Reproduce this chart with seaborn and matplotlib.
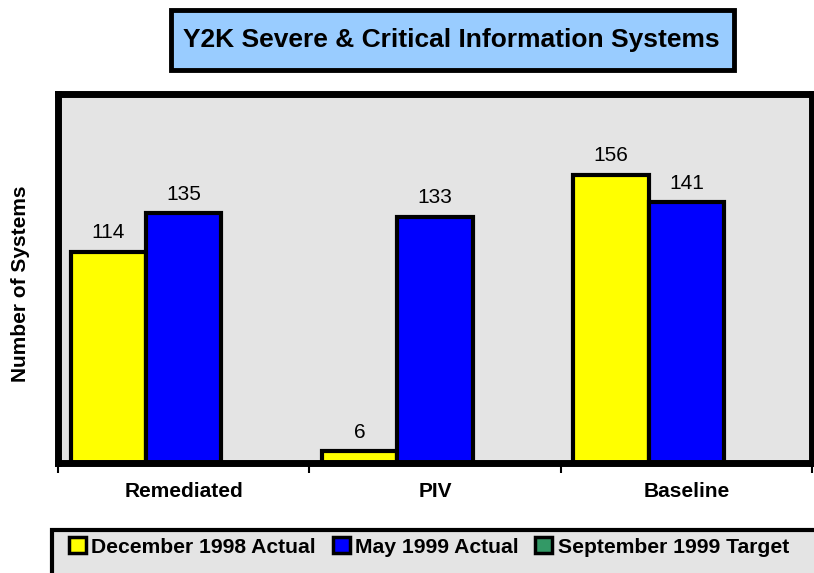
import numpy as np
import pandas as pd
import seaborn as sns
import matplotlib.pyplot as plt
from matplotlib.patches import Patch, Rectangle

categories = ['Remediated', 'PIV', 'Baseline']
series_names = ['December 1998 Actual', 'May 1999 Actual', 'September 1999 Target']
dec_1998_actual = [114, 6, 156]
may_1999_actual = [135, 133, 141]
sep_1999_target = [np.nan, np.nan, np.nan]  # no values reported yet
series_colors = ['#FFFF00', '#0000FF', '#339966']

sns.set_theme(style='white')
plt.rcParams['font.family'] = ['Liberation Sans', 'DejaVu Sans']
plt.rcParams['text.color'] = 'black'
plt.rcParams['xtick.color'] = 'black'
plt.rcParams['axes.labelcolor'] = 'black'

# tabela em formato longo
df = pd.DataFrame({
    'Categoria': categories * 3,
    'Serie': [series_names[0]] * 3 + [series_names[1]] * 3 + [series_names[2]] * 3,
    'Valor': dec_1998_actual + may_1999_actual + sep_1999_target,
})

W, H = 814, 573
fig = plt.figure(figsize=(W / 100, H / 100), dpi=100)
ax = fig.add_axes([58 / W, 1 - 462.5 / H, 754 / W, 369 / H])
ax.set_facecolor('#e4e4e4')

sns.barplot(data=df, x='Categoria', y='Valor', hue='Serie',
            order=categories, hue_order=series_names,
            palette=dict(zip(series_names, series_colors)), saturation=1,
            width=0.9, edgecolor='black', linewidth=3, errorbar=None,
            legend=False, ax=ax)

for c in ax.containers:
    ax.bar_label(c, fmt='%d', padding=7, fontsize=15, color='black')

ax.set_ylim(0, 200)
ax.set_xlim(-0.5, 2.5)
ax.set_yticks([])
ax.set_xlabel('')
ax.set_ylabel('')

# ticks nas divisas, rótulos no centro dos grupos
ax.set_xticks([-0.5, 0.5, 1.5, 2.5])
ax.set_xticklabels([])
ax.set_xticks([0, 1, 2], minor=True)
ax.set_xticklabels(categories, minor=True, fontsize=15, fontweight='bold')
ax.tick_params(axis='x', which='major', direction='out', length=7, width=1.5,
               color='black', bottom=True)
ax.tick_params(axis='x', which='minor', length=0, pad=14, labelcolor='black')

for s in ax.spines.values():
    s.set_visible(True)
    s.set_color('black')
    s.set_linewidth(5)

fig.text(20.5 / W, 1 - 284 / H, 'Number of Systems', rotation=90,
         ha='center', va='center', fontsize=15, fontweight='bold')

# caixa do título
fig.patches.append(Rectangle((170.5 / W, 1 - 69.5 / H), 563.5 / W, 60 / H,
                             transform=fig.transFigure, facecolor='#99CCFF',
                             edgecolor='black', linewidth=3.5, zorder=0))
fig.text(451 / W, 1 - 40 / H, 'Y2K Severe & Critical Information Systems',
         ha='center', va='center', fontsize=19, fontweight='bold')

# caixa da legenda
fig.patches.append(Rectangle((52 / W, -0.1), 1, 0.1 + (573 - 530) / H,
                             transform=fig.transFigure, facecolor='#e4e4e4',
                             edgecolor='black', linewidth=3, zorder=0))
handles = [Patch(facecolor=col, edgecolor='black', linewidth=2.5) for col in series_colors]
fig.legend(handles, series_names, loc='center left',
           bbox_to_anchor=(69 / W, 1 - 547 / H), ncol=3, frameon=False,
           borderpad=0, borderaxespad=0, handlelength=0.8, handleheight=0.8,
           handletextpad=0.25, columnspacing=0.8,
           prop={'size': 15.2, 'weight': 'bold'})

fig.savefig('out.png', dpi=100)
